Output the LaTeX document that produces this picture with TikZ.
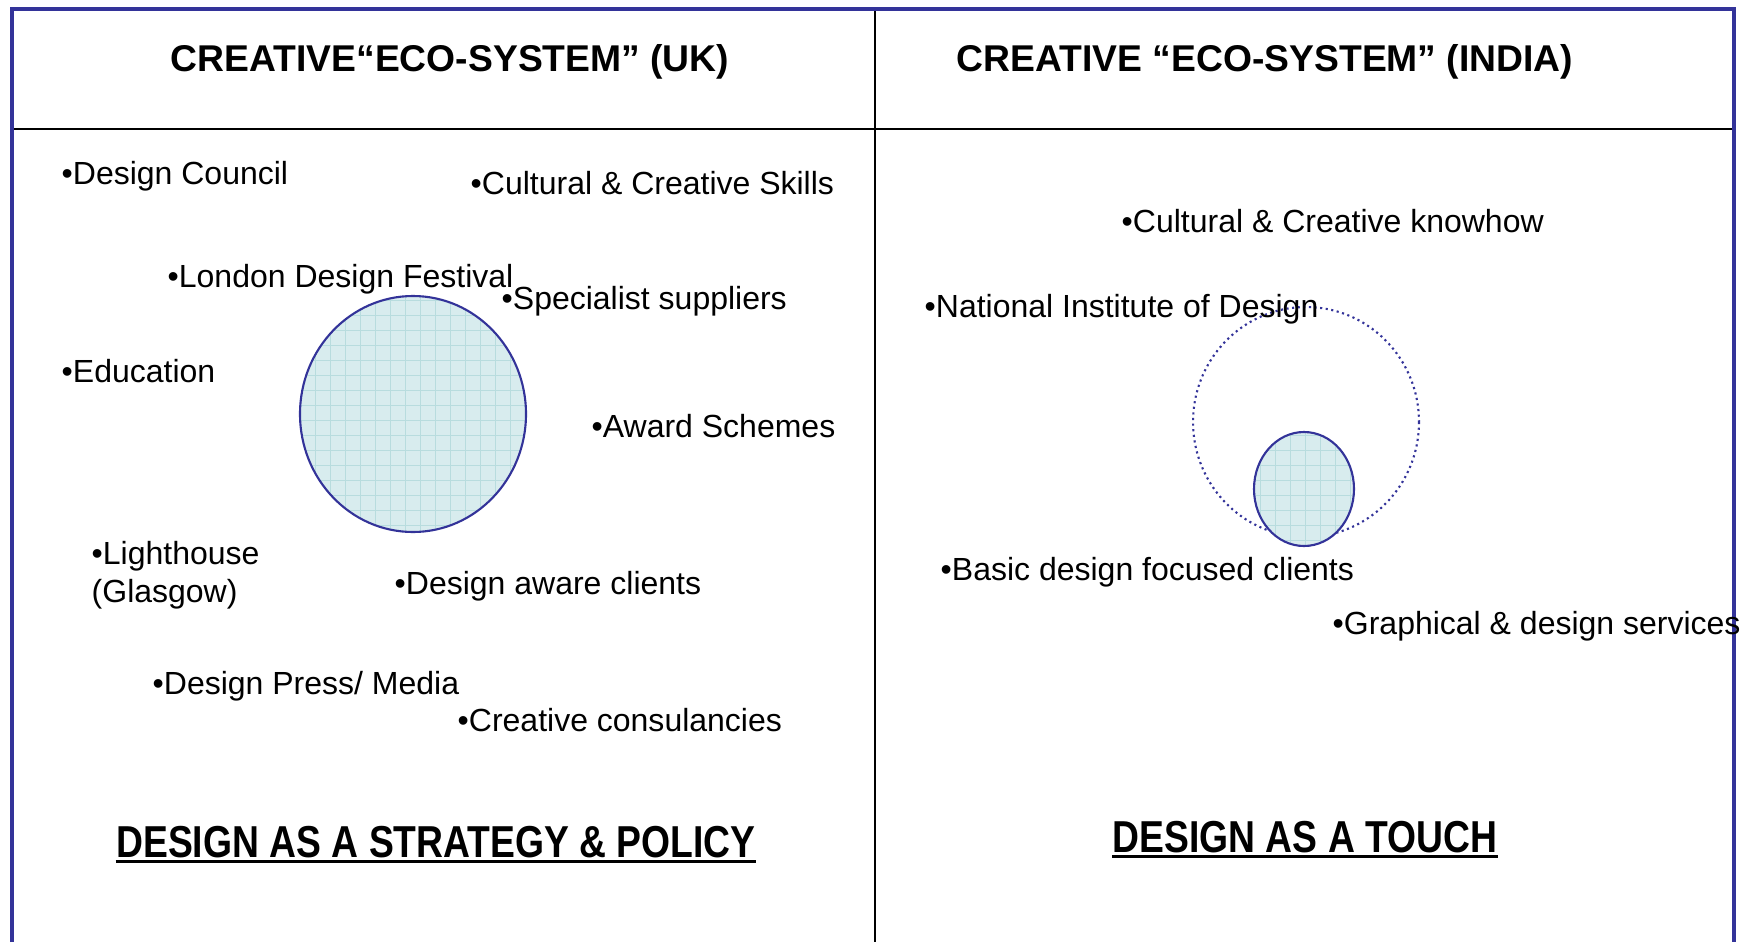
\documentclass[tikz,border=0pt]{standalone}
\usepackage{fontspec}
\setmainfont{Liberation Sans}
\usetikzlibrary{calc}

\definecolor{frameblue}{RGB}{51,51,153}
\definecolor{cellfill}{RGB}{216,236,238}
\definecolor{cellgrid}{RGB}{184,220,222}

\begin{document}
\begin{tikzpicture}[x=0.01cm, y=-0.01cm,
    item/.style={anchor=base west, inner sep=0pt,
      font=\fontsize{9.1pt}{10.8pt}\selectfont},
    heading/.style={anchor=base, inner sep=0pt,
      font=\bfseries\fontsize{10.6pt}{12pt}\selectfont},
    motto/.style={anchor=base, inner sep=0pt,
      font=\bfseries\fontsize{10.6pt}{12pt}\selectfont},
    ringline/.style={draw=frameblue, line width=0.6pt},
    gridline/.style={draw=cellgrid, line width=0.2pt}]
      \useasboundingbox (0,0) rectangle (1742,942);

      % frame and panels
      \coordinate (tl) at (12,9);
      \coordinate (tr) at (1734,9);
      \coordinate (bl) at (12,942);
      \coordinate (br) at (1734,942);
      \coordinate (midtop) at (875,9);
      \coordinate (midbot) at (875,942);
      \coordinate (hl) at (12,129);
      \coordinate (hr) at (1734,129);
      \draw [black, line width=0.6pt] (hl) -- (hr);
      \draw [black, line width=0.6pt] (midtop) -- (midbot);
      \draw [frameblue, line width=0.9pt] (bl) -- (tl) -- (tr) -- (br);

      % headings
      \node [heading] (ukhead) at (450,71) {CREATIVE“ECO-SYSTEM” (UK)};
      \node [heading] (inhead) at (1265,71) {CREATIVE “ECO-SYSTEM” (INDIA)};

      % UK circle
      \coordinate (ukc) at (413,414);
      \begin{scope}
        \clip (ukc) ellipse [x radius=113, y radius=118];
        \fill [cellfill] (290,285) rectangle (540,545);
        \draw [gridline, step=0.15cm] (290,285) grid (540,545);
      \end{scope}
      \draw [ringline] (ukc) ellipse [x radius=113, y radius=118];

      % India circles
      \coordinate (inc) at (1306,422);
      \coordinate (insmall) at (1304,489);
      \draw [frameblue, line width=0.6pt, dash pattern=on 0.6pt off 1pt]
        (inc) ellipse [x radius=113, y radius=115];
      \begin{scope}
        \clip (insmall) ellipse [x radius=50, y radius=57];
        \fill [cellfill] (1250,428) rectangle (1360,550);
        \draw [gridline, step=0.15cm] (1250,428) grid (1360,550);
      \end{scope}
      \draw [ringline] (insmall) ellipse [x radius=50, y radius=57];

      % UK items
      \node [item] (council) at (61,184) {•Design Council};
      \node [item] (skills) at (470,194) {•Cultural \& Creative Skills};
      \node [item] (festival) at (167,287) {•London Design Festival};
      \node [item] (suppliers) at (501,309) {•Specialist suppliers};
      \node [item] (education) at (61,382) {•Education};
      \node [item] (awards) at (591,437) {•Award Schemes};
      \node [item, align=left] (lighthouse) at (91,602) {•Lighthouse\\(Glasgow)};
      \node [item] (aware) at (394,594) {•Design aware clients};
      \node [item] (press) at (152,694) {•Design Press/ Media};
      \node [item] (consult) at (457,731) {•Creative consulancies};

      % India items
      \node [item] (knowhow) at (1121,232) {•Cultural \& Creative knowhow};
      \node [item] (nid) at (924,317) {•National Institute of Design};
      \node [item] (basic) at (940,580) {•Basic design focused clients};
      \node [item] (graphic) at (1332,634) {•Graphical \& design services};

      % mottos
      \node [motto] (ukmotto) at (436,857)
        {\scalebox{1}[1.2]{DESIGN AS A STRATEGY \& POLICY}};
      \node [motto] (inmotto) at (1305,852)
        {\scalebox{1}[1.2]{DESIGN AS A TOUCH}};
      \draw [line width=0.85pt] ([yshift=-1.2pt]ukmotto.base west) -- ([yshift=-1.2pt]ukmotto.base east);
      \draw [line width=0.85pt] ([yshift=-1.2pt]inmotto.base west) -- ([yshift=-1.2pt]inmotto.base east);
    \end{tikzpicture}
\end{document}
